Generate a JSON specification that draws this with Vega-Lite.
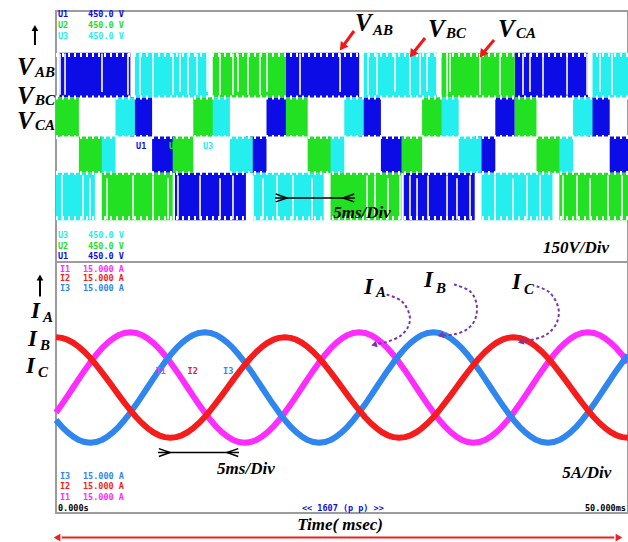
{
"$schema": "https://vega.github.io/schema/vega-lite/v6.json",
"autosize": {"type": "none"},
"width": 572,
"height": 502,
"padding": {"left": 56, "top": 11, "right": 0, "bottom": 29},
"background": "white",
"config": {
  "view": {"stroke": "#9c9c9c", "strokeWidth": 2},
  "axis": {"labels": false, "ticks": false, "domain": false, "grid": true, "gridColor": "#8c8c8c", "gridDash": [1.4, 4.3], "gridWidth": 1.3}
},
"datasets": {
  "vband": [
    {"ch":"VAB","t0":0,"t1":0.3,"lo":0,"hi":140},
    {"ch":"VAB","t0":0.3,"t1":6.5,"lo":140,"hi":300},
    {"ch":"VAB","t0":6.5,"t1":8.4,"lo":0,"hi":140},
    {"ch":"VAB","t0":8.4,"t1":10.4,"lo":-130,"hi":0},
    {"ch":"VAB","t0":10.4,"t1":16.6,"lo":-300,"hi":-130},
    {"ch":"VAB","t0":16.6,"t1":18.4,"lo":-130,"hi":0},
    {"ch":"VAB","t0":18.4,"t1":20.1,"lo":0,"hi":140},
    {"ch":"VAB","t0":20.1,"t1":26.5,"lo":140,"hi":300},
    {"ch":"VAB","t0":26.5,"t1":28.4,"lo":0,"hi":140},
    {"ch":"VAB","t0":28.4,"t1":30.4,"lo":-130,"hi":0},
    {"ch":"VAB","t0":30.4,"t1":36.6,"lo":-300,"hi":-130},
    {"ch":"VAB","t0":36.6,"t1":38.4,"lo":-130,"hi":0},
    {"ch":"VAB","t0":38.4,"t1":40.1,"lo":0,"hi":140},
    {"ch":"VAB","t0":40.1,"t1":46.5,"lo":140,"hi":300},
    {"ch":"VAB","t0":46.5,"t1":48.4,"lo":0,"hi":140},
    {"ch":"VAB","t0":48.4,"t1":50,"lo":-130,"hi":0},
    {"ch":"VBC","t0":0,"t1":3.4,"lo":-300,"hi":-130},
    {"ch":"VBC","t0":3.4,"t1":5.2,"lo":-130,"hi":0},
    {"ch":"VBC","t0":5.2,"t1":6.9,"lo":0,"hi":140},
    {"ch":"VBC","t0":6.9,"t1":13.3,"lo":140,"hi":300},
    {"ch":"VBC","t0":13.3,"t1":15.2,"lo":0,"hi":140},
    {"ch":"VBC","t0":15.2,"t1":17.2,"lo":-130,"hi":0},
    {"ch":"VBC","t0":17.2,"t1":23.4,"lo":-300,"hi":-130},
    {"ch":"VBC","t0":23.4,"t1":25.2,"lo":-130,"hi":0},
    {"ch":"VBC","t0":25.2,"t1":26.9,"lo":0,"hi":140},
    {"ch":"VBC","t0":26.9,"t1":33.3,"lo":140,"hi":300},
    {"ch":"VBC","t0":33.3,"t1":35.2,"lo":0,"hi":140},
    {"ch":"VBC","t0":35.2,"t1":37.2,"lo":-130,"hi":0},
    {"ch":"VBC","t0":37.2,"t1":43.4,"lo":-300,"hi":-130},
    {"ch":"VBC","t0":43.4,"t1":45.2,"lo":-130,"hi":0},
    {"ch":"VBC","t0":45.2,"t1":46.9,"lo":0,"hi":140},
    {"ch":"VBC","t0":46.9,"t1":50,"lo":140,"hi":300},
    {"ch":"VCA","t0":0,"t1":2.0,"lo":0,"hi":140},
    {"ch":"VCA","t0":2.0,"t1":4.0,"lo":-130,"hi":0},
    {"ch":"VCA","t0":4.0,"t1":10.2,"lo":-300,"hi":-130},
    {"ch":"VCA","t0":10.2,"t1":12.0,"lo":-130,"hi":0},
    {"ch":"VCA","t0":12.0,"t1":13.7,"lo":0,"hi":140},
    {"ch":"VCA","t0":13.7,"t1":20.1,"lo":140,"hi":300},
    {"ch":"VCA","t0":20.1,"t1":22.0,"lo":0,"hi":140},
    {"ch":"VCA","t0":22.0,"t1":24.0,"lo":-130,"hi":0},
    {"ch":"VCA","t0":24.0,"t1":30.2,"lo":-300,"hi":-130},
    {"ch":"VCA","t0":30.2,"t1":32.0,"lo":-130,"hi":0},
    {"ch":"VCA","t0":32.0,"t1":33.7,"lo":0,"hi":140},
    {"ch":"VCA","t0":33.7,"t1":40.1,"lo":140,"hi":300},
    {"ch":"VCA","t0":40.1,"t1":42.0,"lo":0,"hi":140},
    {"ch":"VCA","t0":42.0,"t1":44.0,"lo":-130,"hi":0},
    {"ch":"VCA","t0":44.0,"t1":50,"lo":-300,"hi":-130}
  ],
  "vgap": [
    {"t":0.35,"lo":150,"hi":298},{"t":0.79,"lo":150,"hi":298},{"t":4.02,"lo":160,"hi":298},{"t":6.29,"lo":150,"hi":298},
    {"t":7.34,"lo":150,"hi":298},{"t":8.48,"lo":150,"hi":298},{"t":10.23,"lo":150,"hi":298},{"t":10.84,"lo":160,"hi":298},
    {"t":11.54,"lo":150,"hi":298},{"t":12.33,"lo":150,"hi":298},{"t":13.2,"lo":160,"hi":298},
    {"t":14.34,"lo":150,"hi":298},{"t":15.47,"lo":150,"hi":298},{"t":15.91,"lo":160,"hi":298},{"t":16.78,"lo":150,"hi":298},
    {"t":17.83,"lo":150,"hi":298},{"t":18.44,"lo":160,"hi":298},{"t":21.33,"lo":150,"hi":298},{"t":24.83,"lo":160,"hi":298},
    {"t":27.27,"lo":150,"hi":298},{"t":28.06,"lo":150,"hi":298},{"t":29.63,"lo":160,"hi":298},{"t":30.94,"lo":150,"hi":298},
    {"t":31.82,"lo":150,"hi":298},{"t":32.43,"lo":160,"hi":298},{"t":33.3,"lo":150,"hi":298},
    {"t":34.18,"lo":150,"hi":298},{"t":34.44,"lo":160,"hi":298},{"t":37.06,"lo":150,"hi":298},{"t":38.81,"lo":150,"hi":298},
    {"t":40.82,"lo":150,"hi":298},{"t":41.43,"lo":160,"hi":298},{"t":42.57,"lo":150,"hi":298},{"t":44.67,"lo":150,"hi":298},
    {"t":46.42,"lo":150,"hi":298},{"t":47.55,"lo":160,"hi":298},{"t":48.6,"lo":150,"hi":298},
    {"t":0.52,"lo":-298,"hi":-140},{"t":2.36,"lo":-298,"hi":-140},{"t":2.97,"lo":-298,"hi":-150},{"t":3.58,"lo":-298,"hi":-140},
    {"t":3.85,"lo":-298,"hi":-140},{"t":4.46,"lo":-298,"hi":-150},{"t":6.73,"lo":-298,"hi":-140},{"t":8.48,"lo":-298,"hi":-140},
    {"t":9.79,"lo":-298,"hi":-150},{"t":10.66,"lo":-298,"hi":-140},{"t":12.59,"lo":-298,"hi":-140},{"t":14.34,"lo":-298,"hi":-150},
    {"t":15.47,"lo":-298,"hi":-140},{"t":17.22,"lo":-298,"hi":-140},{"t":18.09,"lo":-298,"hi":-150},{"t":19.32,"lo":-298,"hi":-140},
    {"t":20.72,"lo":-298,"hi":-140},{"t":22.38,"lo":-298,"hi":-150},{"t":27.19,"lo":-298,"hi":-140},{"t":27.88,"lo":-298,"hi":-140},
    {"t":29.02,"lo":-298,"hi":-150},{"t":30.07,"lo":-298,"hi":-140},{"t":30.94,"lo":-298,"hi":-140},{"t":31.56,"lo":-298,"hi":-150},
    {"t":32.52,"lo":-298,"hi":-140},{"t":34.18,"lo":-298,"hi":-140},{"t":35.05,"lo":-298,"hi":-150},{"t":36.19,"lo":-298,"hi":-140},
    {"t":38.37,"lo":-298,"hi":-140},{"t":39.95,"lo":-298,"hi":-150},{"t":41.17,"lo":-298,"hi":-140},{"t":42.31,"lo":-298,"hi":-140},
    {"t":43.62,"lo":-298,"hi":-150},{"t":44.32,"lo":-298,"hi":-140},{"t":45.54,"lo":-298,"hi":-140},{"t":46.68,"lo":-298,"hi":-150},
    {"t":48.25,"lo":-298,"hi":-140},{"t":49.48,"lo":-298,"hi":-140}
  ],
  "vteeth": [
    {"t0":0,"t1":50,"v":292},
    {"t0":0,"t1":50,"v":140},
    {"t0":0,"t1":50,"v":-2},
    {"t0":0,"t1":50,"v":-131},
    {"t0":0,"t1":50,"v":-292}
  ],
  "vdiv": [{"t0":0,"t1":50,"v":-450}],
  "vscope": [
    {"t":0.17,"v":437.5,"txt":"U1","ch":"VAB"},
    {"t":2.8,"v":437.5,"txt":"450.0 V","ch":"VAB"},
    {"t":0.17,"v":399.8,"txt":"U2","ch":"VCA"},
    {"t":2.8,"v":399.8,"txt":"450.0 V","ch":"VCA"},
    {"t":0.17,"v":362.1,"txt":"U3","ch":"VBC"},
    {"t":2.8,"v":362.1,"txt":"450.0 V","ch":"VBC"},
    {"t":0.17,"v":-353.2,"txt":"U3","ch":"VBC"},
    {"t":2.8,"v":-353.2,"txt":"450.0 V","ch":"VBC"},
    {"t":0.17,"v":-392.6,"txt":"U2","ch":"VCA"},
    {"t":2.8,"v":-392.6,"txt":"450.0 V","ch":"VCA"},
    {"t":0.17,"v":-428.5,"txt":"U1","ch":"VAB"},
    {"t":2.8,"v":-428.5,"txt":"450.0 V","ch":"VAB"},
    {"t":7.0,"v":-34.1,"txt":"U1","ch":"VAB"},
    {"t":9.88,"v":-34.1,"txt":"U2","ch":"VCA"},
    {"t":12.85,"v":-34.1,"txt":"U3","ch":"VBC"}
  ],
  "vbig": [
    {"t":-3.41,"v":249.2,"txt":"V","k":"m"},
    {"t":-1.84,"v":231.3,"txt":"AB","k":"s"},
    {"t":-3.41,"v":147,"txt":"V","k":"m"},
    {"t":-1.84,"v":130.9,"txt":"BC","k":"s"},
    {"t":-3.41,"v":55.6,"txt":"V","k":"m"},
    {"t":-1.84,"v":41.2,"txt":"CA","k":"s"},
    {"t":26.14,"v":407,"txt":"V","k":"m"},
    {"t":27.71,"v":381.9,"txt":"AB","k":"s"},
    {"t":32.52,"v":385.5,"txt":"V","k":"m"},
    {"t":34.09,"v":371.1,"txt":"BC","k":"s"},
    {"t":38.64,"v":385.5,"txt":"V","k":"m"},
    {"t":40.21,"v":371.1,"txt":"CA","k":"s"}
  ],
  "vnote": [
    {"t":26.75,"v":-274.3,"txt":"5ms/Div"},
    {"t":45.45,"v":-399.8,"txt":"150V/Div"}
  ],
  "varrow": [
    {"t0":26.05,"v0":378.3,"t1":25.09,"v1":324.5},
    {"t0":32.26,"v0":353.2,"t1":31.21,"v1":299.4},
    {"t0":38.29,"v0":346.0,"t1":37.33,"v1":299.4}
  ],
  "vline": [{"t0":19.14,"t1":26.14,"v":-220.5}],
  "vchev": [
    {"t":20.19,"v":-220.5,"d":"R"},
    {"t":25.09,"v":-220.5,"d":"L"}
  ],
  "vup": [{"t":-1.84,"v0":328.1,"v1":389}],
  "cur": [
    {"t":0,"IA":-3.0,"IB":-3.88,"IC":6},
    {"t":0.5,"IA":-2.04,"IB":-4.67,"IC":5.93},
    {"t":1,"IA":-1.03,"IB":-5.34,"IC":5.71},
    {"t":1.5,"IA":0,"IB":-5.88,"IC":5.35},
    {"t":2,"IA":1.03,"IB":-6.28,"IC":4.85},
    {"t":2.5,"IA":2.04,"IB":-6.52,"IC":4.24},
    {"t":3,"IA":3.0,"IB":-6.6,"IC":3.53},
    {"t":3.5,"IA":3.88,"IB":-6.52,"IC":2.72},
    {"t":4,"IA":4.67,"IB":-6.28,"IC":1.85},
    {"t":4.5,"IA":5.34,"IB":-5.88,"IC":0.94},
    {"t":5,"IA":5.88,"IB":-5.34,"IC":0},
    {"t":5.5,"IA":6.28,"IB":-4.67,"IC":-0.94},
    {"t":6,"IA":6.52,"IB":-3.88,"IC":-1.85},
    {"t":6.5,"IA":6.6,"IB":-3.0,"IC":-2.72},
    {"t":7,"IA":6.52,"IB":-2.04,"IC":-3.53},
    {"t":7.5,"IA":6.28,"IB":-1.03,"IC":-4.24},
    {"t":8,"IA":5.88,"IB":0,"IC":-4.85},
    {"t":8.5,"IA":5.34,"IB":1.03,"IC":-5.35},
    {"t":9,"IA":4.67,"IB":2.04,"IC":-5.71},
    {"t":9.5,"IA":3.88,"IB":3.0,"IC":-5.93},
    {"t":10,"IA":3.0,"IB":3.88,"IC":-6},
    {"t":10.5,"IA":2.04,"IB":4.67,"IC":-5.93},
    {"t":11,"IA":1.03,"IB":5.34,"IC":-5.71},
    {"t":11.5,"IA":0,"IB":5.88,"IC":-5.35},
    {"t":12,"IA":-1.03,"IB":6.28,"IC":-4.85},
    {"t":12.5,"IA":-2.04,"IB":6.52,"IC":-4.24},
    {"t":13,"IA":-3.0,"IB":6.6,"IC":-3.53},
    {"t":13.5,"IA":-3.88,"IB":6.52,"IC":-2.72},
    {"t":14,"IA":-4.67,"IB":6.28,"IC":-1.85},
    {"t":14.5,"IA":-5.34,"IB":5.88,"IC":-0.94},
    {"t":15,"IA":-5.88,"IB":5.34,"IC":0},
    {"t":15.5,"IA":-6.28,"IB":4.67,"IC":0.94},
    {"t":16,"IA":-6.52,"IB":3.88,"IC":1.85},
    {"t":16.5,"IA":-6.6,"IB":3.0,"IC":2.72},
    {"t":17,"IA":-6.52,"IB":2.04,"IC":3.53},
    {"t":17.5,"IA":-6.28,"IB":1.03,"IC":4.24},
    {"t":18,"IA":-5.88,"IB":0,"IC":4.85},
    {"t":18.5,"IA":-5.34,"IB":-1.03,"IC":5.35},
    {"t":19,"IA":-4.67,"IB":-2.04,"IC":5.71},
    {"t":19.5,"IA":-3.88,"IB":-3.0,"IC":5.93},
    {"t":20,"IA":-3.0,"IB":-3.88,"IC":6},
    {"t":20.5,"IA":-2.04,"IB":-4.67,"IC":5.93},
    {"t":21,"IA":-1.03,"IB":-5.34,"IC":5.71},
    {"t":21.5,"IA":0,"IB":-5.88,"IC":5.35},
    {"t":22,"IA":1.03,"IB":-6.28,"IC":4.85},
    {"t":22.5,"IA":2.04,"IB":-6.52,"IC":4.24},
    {"t":23,"IA":3.0,"IB":-6.6,"IC":3.53},
    {"t":23.5,"IA":3.88,"IB":-6.52,"IC":2.72},
    {"t":24,"IA":4.67,"IB":-6.28,"IC":1.85},
    {"t":24.5,"IA":5.34,"IB":-5.88,"IC":0.94},
    {"t":25,"IA":5.88,"IB":-5.34,"IC":0},
    {"t":25.5,"IA":6.28,"IB":-4.67,"IC":-0.94},
    {"t":26,"IA":6.52,"IB":-3.88,"IC":-1.85},
    {"t":26.5,"IA":6.6,"IB":-3.0,"IC":-2.72},
    {"t":27,"IA":6.52,"IB":-2.04,"IC":-3.53},
    {"t":27.5,"IA":6.28,"IB":-1.03,"IC":-4.24},
    {"t":28,"IA":5.88,"IB":0,"IC":-4.85},
    {"t":28.5,"IA":5.34,"IB":1.03,"IC":-5.35},
    {"t":29,"IA":4.67,"IB":2.04,"IC":-5.71},
    {"t":29.5,"IA":3.88,"IB":3.0,"IC":-5.93},
    {"t":30,"IA":3.0,"IB":3.88,"IC":-6},
    {"t":30.5,"IA":2.04,"IB":4.67,"IC":-5.93},
    {"t":31,"IA":1.03,"IB":5.34,"IC":-5.71},
    {"t":31.5,"IA":0,"IB":5.88,"IC":-5.35},
    {"t":32,"IA":-1.03,"IB":6.28,"IC":-4.85},
    {"t":32.5,"IA":-2.04,"IB":6.52,"IC":-4.24},
    {"t":33,"IA":-3.0,"IB":6.6,"IC":-3.53},
    {"t":33.5,"IA":-3.88,"IB":6.52,"IC":-2.72},
    {"t":34,"IA":-4.67,"IB":6.28,"IC":-1.85},
    {"t":34.5,"IA":-5.34,"IB":5.88,"IC":-0.94},
    {"t":35,"IA":-5.88,"IB":5.34,"IC":0},
    {"t":35.5,"IA":-6.28,"IB":4.67,"IC":0.94},
    {"t":36,"IA":-6.52,"IB":3.88,"IC":1.85},
    {"t":36.5,"IA":-6.6,"IB":3.0,"IC":2.72},
    {"t":37,"IA":-6.52,"IB":2.04,"IC":3.53},
    {"t":37.5,"IA":-6.28,"IB":1.03,"IC":4.24},
    {"t":38,"IA":-5.88,"IB":0,"IC":4.85},
    {"t":38.5,"IA":-5.34,"IB":-1.03,"IC":5.35},
    {"t":39,"IA":-4.67,"IB":-2.04,"IC":5.71},
    {"t":39.5,"IA":-3.88,"IB":-3.0,"IC":5.93},
    {"t":40,"IA":-3.0,"IB":-3.88,"IC":6},
    {"t":40.5,"IA":-2.04,"IB":-4.67,"IC":5.93},
    {"t":41,"IA":-1.03,"IB":-5.34,"IC":5.71},
    {"t":41.5,"IA":0,"IB":-5.88,"IC":5.35},
    {"t":42,"IA":1.03,"IB":-6.28,"IC":4.85},
    {"t":42.5,"IA":2.04,"IB":-6.52,"IC":4.24},
    {"t":43,"IA":3.0,"IB":-6.6,"IC":3.53},
    {"t":43.5,"IA":3.88,"IB":-6.52,"IC":2.72},
    {"t":44,"IA":4.67,"IB":-6.28,"IC":1.85},
    {"t":44.5,"IA":5.34,"IB":-5.88,"IC":0.94},
    {"t":45,"IA":5.88,"IB":-5.34,"IC":0},
    {"t":45.5,"IA":6.28,"IB":-4.67,"IC":-0.94},
    {"t":46,"IA":6.52,"IB":-3.88,"IC":-1.85},
    {"t":46.5,"IA":6.6,"IB":-3.0,"IC":-2.72},
    {"t":47,"IA":6.52,"IB":-2.04,"IC":-3.53},
    {"t":47.5,"IA":6.28,"IB":-1.03,"IC":-4.24},
    {"t":48,"IA":5.88,"IB":0,"IC":-4.85},
    {"t":48.5,"IA":5.34,"IB":1.03,"IC":-5.35},
    {"t":49,"IA":4.67,"IB":2.04,"IC":-5.71},
    {"t":49.5,"IA":3.88,"IB":3.0,"IC":-5.93},
    {"t":50,"IA":3.0,"IB":3.88,"IC":-6}
  ],
  "cscope": [
    {"t":0.35,"i":14.16,"txt":"I1","ch":"IA"},
    {"t":2.36,"i":14.16,"txt":"15.000 A","ch":"IA"},
    {"t":0.35,"i":13.09,"txt":"I2","ch":"IC"},
    {"t":2.36,"i":13.09,"txt":"15.000 A","ch":"IC"},
    {"t":0.35,"i":11.89,"txt":"I3","ch":"IB"},
    {"t":2.36,"i":11.89,"txt":"15.000 A","ch":"IB"},
    {"t":0.35,"i":-10.58,"txt":"I3","ch":"IB"},
    {"t":2.36,"i":-10.58,"txt":"15.000 A","ch":"IB"},
    {"t":0.35,"i":-11.77,"txt":"I2","ch":"IC"},
    {"t":2.36,"i":-11.77,"txt":"15.000 A","ch":"IC"},
    {"t":0.35,"i":-13.03,"txt":"I1","ch":"IA"},
    {"t":2.36,"i":-13.03,"txt":"15.000 A","ch":"IA"},
    {"t":8.7,"i":2.03,"txt":"I1","ch":"IA"},
    {"t":11.5,"i":2.03,"txt":"I2","ch":"IC"},
    {"t":14.6,"i":2.03,"txt":"I3","ch":"IB"},
    {"t":21.5,"i":-14.46,"txt":"<< 1607 (p p) >>","ch":"VAB"}
  ],
  "cblack": [
    {"t":0.17,"i":-14.46,"txt":"0.000s"},
    {"t":46.24,"i":-14.46,"txt":"50.000ms"}
  ],
  "cbig": [
    {"t":-2.19,"i":9.2,"txt":"I","k":"m"},
    {"t":-1.14,"i":8.37,"txt":"A","k":"s"},
    {"t":-2.45,"i":5.74,"txt":"I","k":"m"},
    {"t":-1.4,"i":5.02,"txt":"B","k":"s"},
    {"t":-2.62,"i":2.51,"txt":"I","k":"m"},
    {"t":-1.57,"i":1.91,"txt":"C","k":"s"},
    {"t":26.92,"i":12.07,"txt":"I","k":"m"},
    {"t":27.97,"i":11.47,"txt":"A","k":"s"},
    {"t":32.17,"i":12.79,"txt":"I","k":"m"},
    {"t":33.22,"i":11.95,"txt":"B","k":"s"},
    {"t":39.86,"i":12.55,"txt":"I","k":"m"},
    {"t":40.91,"i":11.83,"txt":"C","k":"s"}
  ],
  "cnote": [
    {"t":16.6,"i":-9.8,"txt":"5ms/Div"},
    {"t":46.4,"i":-10.16,"txt":"5A/Div"},
    {"t":24.83,"i":-16.49,"txt":"Time( msec)"}
  ],
  "cline": [{"t0":8.92,"t1":16.0,"i":-7.77}],
  "cchev": [
    {"t":9.97,"i":-7.77,"d":"R"},
    {"t":14.95,"i":-7.77,"d":"L"}
  ],
  "cup": [{"t":-1.4,"i0":10.88,"i1":13.15}],
  "cred": [{"t0":0.5,"t1":48.8,"i":-17.93}],
  "credhead": [
    {"t":0.09,"i":-17.93,"d":"L"},
    {"t":49.21,"i":-17.93,"d":"R"}
  ],
  "cpurple": [
    {"g":"A","o":1,"t":28.91,"i":11.12},
    {"g":"A","o":2,"t":30.22,"i":10.31},
    {"g":"A","o":3,"t":30.89,"i":8.72},
    {"g":"A","o":4,"t":30.8,"i":7.33},
    {"g":"A","o":5,"t":30.07,"i":6.13},
    {"g":"A","o":6,"t":28.91,"i":5.46},
    {"g":"A","o":7,"t":27.88,"i":5.14},
    {"g":"B","o":1,"t":34.79,"i":12.31},
    {"g":"B","o":2,"t":36.19,"i":11.51},
    {"g":"B","o":3,"t":36.77,"i":9.92},
    {"g":"B","o":4,"t":36.63,"i":8.13},
    {"g":"B","o":5,"t":35.9,"i":6.93},
    {"g":"B","o":6,"t":34.73,"i":6.33},
    {"g":"B","o":7,"t":33.71,"i":6.25},
    {"g":"C","o":1,"t":42.02,"i":12.11},
    {"g":"C","o":2,"t":43.18,"i":11.32},
    {"g":"C","o":3,"t":43.91,"i":9.53},
    {"g":"C","o":4,"t":43.77,"i":7.73},
    {"g":"C","o":5,"t":42.89,"i":6.33},
    {"g":"C","o":6,"t":41.72,"i":5.74},
    {"g":"C","o":7,"t":40.71,"i":5.46}
  ],
  "cphead": [
    {"t":27.88,"i":5.14},
    {"t":33.71,"i":6.25},
    {"t":40.71,"i":5.46}
  ]
},
"resolve": {"scale": {"y": "independent"}},
"layer": [
  {
    "layer": [
      {
        "data": {"name": "vband"},
        "mark": {"type": "rect"},
        "encoding": {
          "x": {"field": "t0", "type": "quantitative", "scale": {"domain": [0, 50], "nice": false, "zero": false}, "axis": {"values": [5,10,15,20,25,30,35,40,45], "labels": false, "ticks": false, "domain": false, "title": null, "grid": true}},
          "x2": {"field": "t1"},
          "y": {"field": "lo", "type": "quantitative", "scale": {"domain": [-1350, 450], "nice": false, "zero": false}, "axis": {"values": [-300,-150,0,150,300], "labels": false, "ticks": false, "domain": false, "title": null, "grid": true}},
          "y2": {"field": "hi"},
          "color": {"field": "ch", "type": "nominal", "scale": {"domain": ["VAB","VBC","VCA","IA","IB","IC"], "range": ["#0c0ce6","#25eeee","#22e022","#ff2cff","#2e86ee","#f51c1c"]}, "legend": null}
        }
      },
      {
        "data": {"name": "vgap"},
        "mark": {"type": "rule", "color": "white", "strokeWidth": 1.6},
        "encoding": {
          "x": {"field": "t", "type": "quantitative", "scale": {"domain": [0, 50], "nice": false, "zero": false}, "axis": null},
          "y": {"field": "lo", "type": "quantitative", "scale": {"domain": [-1350, 450], "nice": false, "zero": false}, "axis": null},
          "y2": {"field": "hi"}
        }
      },
      {
        "data": {"name": "vteeth"},
        "mark": {"type": "rule", "color": "white", "strokeWidth": 4, "strokeDash": [2, 4]},
        "encoding": {
          "x": {"field": "t0", "type": "quantitative", "scale": {"domain": [0, 50], "nice": false, "zero": false}, "axis": null},
          "x2": {"field": "t1"},
          "y": {"field": "v", "type": "quantitative", "scale": {"domain": [-1350, 450], "nice": false, "zero": false}, "axis": null}
        }
      },
      {
        "data": {"name": "vdiv"},
        "mark": {"type": "rule", "color": "#9c9c9c", "strokeWidth": 2},
        "encoding": {
          "x": {"field": "t0", "type": "quantitative", "scale": {"domain": [0, 50], "nice": false, "zero": false}, "axis": null},
          "x2": {"field": "t1"},
          "y": {"field": "v", "type": "quantitative", "scale": {"domain": [-1350, 450], "nice": false, "zero": false}, "axis": null}
        }
      },
      {
        "data": {"name": "vscope"},
        "mark": {"type": "text", "align": "left", "baseline": "middle", "font": "DejaVu Sans Mono", "fontSize": 8.5, "fontWeight": "bold"},
        "encoding": {
          "x": {"field": "t", "type": "quantitative", "scale": {"domain": [0, 50], "nice": false, "zero": false}, "axis": null},
          "y": {"field": "v", "type": "quantitative", "scale": {"domain": [-1350, 450], "nice": false, "zero": false}, "axis": null},
          "text": {"field": "txt"},
          "color": {"field": "ch", "type": "nominal", "scale": {"domain": ["VAB","VBC","VCA","IA","IB","IC"], "range": ["#0c0ce6","#25eeee","#22e022","#ff2cff","#2e86ee","#f51c1c"]}, "legend": null}
        }
      },
      {
        "data": {"name": "vbig"},
        "transform": [{"filter": "datum.k == 'm'"}],
        "mark": {"type": "text", "align": "left", "baseline": "middle", "font": "Liberation Serif", "fontStyle": "italic", "fontWeight": "bold", "fontSize": 25, "color": "black"},
        "encoding": {
          "x": {"field": "t", "type": "quantitative", "scale": {"domain": [0, 50], "nice": false, "zero": false}, "axis": null},
          "y": {"field": "v", "type": "quantitative", "scale": {"domain": [-1350, 450], "nice": false, "zero": false}, "axis": null},
          "text": {"field": "txt"}
        }
      },
      {
        "data": {"name": "vbig"},
        "transform": [{"filter": "datum.k == 's'"}],
        "mark": {"type": "text", "align": "left", "baseline": "middle", "font": "Liberation Serif", "fontStyle": "italic", "fontWeight": "bold", "fontSize": 15, "color": "black"},
        "encoding": {
          "x": {"field": "t", "type": "quantitative", "scale": {"domain": [0, 50], "nice": false, "zero": false}, "axis": null},
          "y": {"field": "v", "type": "quantitative", "scale": {"domain": [-1350, 450], "nice": false, "zero": false}, "axis": null},
          "text": {"field": "txt"}
        }
      },
      {
        "data": {"name": "vnote"},
        "mark": {"type": "text", "align": "center", "baseline": "middle", "font": "Liberation Serif", "fontStyle": "italic", "fontWeight": "bold", "fontSize": 17, "color": "black"},
        "encoding": {
          "x": {"field": "t", "type": "quantitative", "scale": {"domain": [0, 50], "nice": false, "zero": false}, "axis": null},
          "y": {"field": "v", "type": "quantitative", "scale": {"domain": [-1350, 450], "nice": false, "zero": false}, "axis": null},
          "text": {"field": "txt"}
        }
      },
      {
        "data": {"name": "varrow"},
        "mark": {"type": "rule", "color": "#f01818", "strokeWidth": 3},
        "encoding": {
          "x": {"field": "t0", "type": "quantitative", "scale": {"domain": [0, 50], "nice": false, "zero": false}, "axis": null},
          "x2": {"field": "t1"},
          "y": {"field": "v0", "type": "quantitative", "scale": {"domain": [-1350, 450], "nice": false, "zero": false}, "axis": null},
          "y2": {"field": "v1"}
        }
      },
      {
        "data": {"name": "varrow"},
        "mark": {"type": "point", "shape": "triangle", "angle": 216, "filled": true, "color": "#f01818", "opacity": 1, "size": 90},
        "encoding": {
          "x": {"field": "t1", "type": "quantitative", "scale": {"domain": [0, 50], "nice": false, "zero": false}, "axis": null},
          "y": {"field": "v1", "type": "quantitative", "scale": {"domain": [-1350, 450], "nice": false, "zero": false}, "axis": null}
        }
      },
      {
        "data": {"name": "vline"},
        "mark": {"type": "rule", "color": "black", "strokeWidth": 1.5},
        "encoding": {
          "x": {"field": "t0", "type": "quantitative", "scale": {"domain": [0, 50], "nice": false, "zero": false}, "axis": null},
          "x2": {"field": "t1"},
          "y": {"field": "v", "type": "quantitative", "scale": {"domain": [-1350, 450], "nice": false, "zero": false}, "axis": null}
        }
      },
      {
        "data": {"name": "vchev"},
        "transform": [{"filter": "datum.d == 'R'"}],
        "mark": {"type": "point", "shape": "M-1,-0.35L0,0L-1,0.35", "filled": false, "color": "black", "strokeWidth": 1.5, "opacity": 1, "size": 500},
        "encoding": {
          "x": {"field": "t", "type": "quantitative", "scale": {"domain": [0, 50], "nice": false, "zero": false}, "axis": null},
          "y": {"field": "v", "type": "quantitative", "scale": {"domain": [-1350, 450], "nice": false, "zero": false}, "axis": null}
        }
      },
      {
        "data": {"name": "vchev"},
        "transform": [{"filter": "datum.d == 'L'"}],
        "mark": {"type": "point", "shape": "M1,-0.35L0,0L1,0.35", "filled": false, "color": "black", "strokeWidth": 1.5, "opacity": 1, "size": 500},
        "encoding": {
          "x": {"field": "t", "type": "quantitative", "scale": {"domain": [0, 50], "nice": false, "zero": false}, "axis": null},
          "y": {"field": "v", "type": "quantitative", "scale": {"domain": [-1350, 450], "nice": false, "zero": false}, "axis": null}
        }
      },
      {
        "data": {"name": "vup"},
        "mark": {"type": "rule", "color": "black", "strokeWidth": 2},
        "encoding": {
          "x": {"field": "t", "type": "quantitative", "scale": {"domain": [0, 50], "nice": false, "zero": false}, "axis": null},
          "y": {"field": "v0", "type": "quantitative", "scale": {"domain": [-1350, 450], "nice": false, "zero": false}, "axis": null},
          "y2": {"field": "v1"}
        }
      },
      {
        "data": {"name": "vup"},
        "mark": {"type": "point", "shape": "triangle-up", "filled": true, "color": "black", "opacity": 1, "size": 45},
        "encoding": {
          "x": {"field": "t", "type": "quantitative", "scale": {"domain": [0, 50], "nice": false, "zero": false}, "axis": null},
          "y": {"field": "v1", "type": "quantitative", "scale": {"domain": [-1350, 450], "nice": false, "zero": false}, "axis": null}
        }
      }
    ]
  },
  {
    "layer": [
      {
        "data": {"name": "cur"},
        "transform": [{"fold": ["IA", "IB", "IC"], "as": ["ch", "i"]}],
        "mark": {"type": "line", "strokeWidth": 6, "strokeJoin": "round"},
        "encoding": {
          "x": {"field": "t", "type": "quantitative", "scale": {"domain": [0, 50], "nice": false, "zero": false}, "axis": null},
          "y": {"field": "i", "type": "quantitative", "scale": {"domain": [-15, 45], "nice": false, "zero": false}, "axis": {"values": [-10,-5,0,5,10], "labels": false, "ticks": false, "domain": false, "title": null, "grid": true}},
          "color": {"field": "ch", "type": "nominal", "scale": {"domain": ["VAB","VBC","VCA","IA","IB","IC"], "range": ["#0c0ce6","#25eeee","#22e022","#ff2cff","#2e86ee","#f51c1c"]}, "legend": null}
        }
      },
      {
        "data": {"name": "cscope"},
        "mark": {"type": "text", "align": "left", "baseline": "middle", "font": "DejaVu Sans Mono", "fontSize": 8.5, "fontWeight": "bold"},
        "encoding": {
          "x": {"field": "t", "type": "quantitative", "scale": {"domain": [0, 50], "nice": false, "zero": false}, "axis": null},
          "y": {"field": "i", "type": "quantitative", "scale": {"domain": [-15, 45], "nice": false, "zero": false}, "axis": null},
          "text": {"field": "txt"},
          "color": {"field": "ch", "type": "nominal", "scale": {"domain": ["VAB","VBC","VCA","IA","IB","IC"], "range": ["#0c0ce6","#25eeee","#22e022","#ff2cff","#2e86ee","#f51c1c"]}, "legend": null}
        }
      },
      {
        "data": {"name": "cblack"},
        "mark": {"type": "text", "align": "left", "baseline": "middle", "font": "DejaVu Sans Mono", "fontSize": 8.5, "fontWeight": "bold", "color": "black"},
        "encoding": {
          "x": {"field": "t", "type": "quantitative", "scale": {"domain": [0, 50], "nice": false, "zero": false}, "axis": null},
          "y": {"field": "i", "type": "quantitative", "scale": {"domain": [-15, 45], "nice": false, "zero": false}, "axis": null},
          "text": {"field": "txt"}
        }
      },
      {
        "data": {"name": "cpurple"},
        "mark": {"type": "line", "interpolate": "cardinal", "color": "#7a35a8", "strokeWidth": 2, "strokeDash": [3, 2.5]},
        "encoding": {
          "x": {"field": "t", "type": "quantitative", "scale": {"domain": [0, 50], "nice": false, "zero": false}, "axis": null},
          "y": {"field": "i", "type": "quantitative", "scale": {"domain": [-15, 45], "nice": false, "zero": false}, "axis": null},
          "detail": {"field": "g"},
          "order": {"field": "o"}
        }
      },
      {
        "data": {"name": "cphead"},
        "mark": {"type": "point", "shape": "triangle", "angle": 255, "filled": true, "color": "#7a35a8", "opacity": 1, "size": 45},
        "encoding": {
          "x": {"field": "t", "type": "quantitative", "scale": {"domain": [0, 50], "nice": false, "zero": false}, "axis": null},
          "y": {"field": "i", "type": "quantitative", "scale": {"domain": [-15, 45], "nice": false, "zero": false}, "axis": null}
        }
      },
      {
        "data": {"name": "cbig"},
        "transform": [{"filter": "datum.k == 'm'"}],
        "mark": {"type": "text", "align": "left", "baseline": "middle", "font": "Liberation Serif", "fontStyle": "italic", "fontWeight": "bold", "fontSize": 23, "color": "black"},
        "encoding": {
          "x": {"field": "t", "type": "quantitative", "scale": {"domain": [0, 50], "nice": false, "zero": false}, "axis": null},
          "y": {"field": "i", "type": "quantitative", "scale": {"domain": [-15, 45], "nice": false, "zero": false}, "axis": null},
          "text": {"field": "txt"}
        }
      },
      {
        "data": {"name": "cbig"},
        "transform": [{"filter": "datum.k == 's'"}],
        "mark": {"type": "text", "align": "left", "baseline": "middle", "font": "Liberation Serif", "fontStyle": "italic", "fontWeight": "bold", "fontSize": 15, "color": "black"},
        "encoding": {
          "x": {"field": "t", "type": "quantitative", "scale": {"domain": [0, 50], "nice": false, "zero": false}, "axis": null},
          "y": {"field": "i", "type": "quantitative", "scale": {"domain": [-15, 45], "nice": false, "zero": false}, "axis": null},
          "text": {"field": "txt"}
        }
      },
      {
        "data": {"name": "cnote"},
        "mark": {"type": "text", "align": "center", "baseline": "middle", "font": "Liberation Serif", "fontStyle": "italic", "fontWeight": "bold", "fontSize": 17, "color": "black"},
        "encoding": {
          "x": {"field": "t", "type": "quantitative", "scale": {"domain": [0, 50], "nice": false, "zero": false}, "axis": null},
          "y": {"field": "i", "type": "quantitative", "scale": {"domain": [-15, 45], "nice": false, "zero": false}, "axis": null},
          "text": {"field": "txt"}
        }
      },
      {
        "data": {"name": "cline"},
        "mark": {"type": "rule", "color": "black", "strokeWidth": 1.5},
        "encoding": {
          "x": {"field": "t0", "type": "quantitative", "scale": {"domain": [0, 50], "nice": false, "zero": false}, "axis": null},
          "x2": {"field": "t1"},
          "y": {"field": "i", "type": "quantitative", "scale": {"domain": [-15, 45], "nice": false, "zero": false}, "axis": null}
        }
      },
      {
        "data": {"name": "cchev"},
        "transform": [{"filter": "datum.d == 'R'"}],
        "mark": {"type": "point", "shape": "M-1,-0.35L0,0L-1,0.35", "filled": false, "color": "black", "strokeWidth": 1.5, "opacity": 1, "size": 500},
        "encoding": {
          "x": {"field": "t", "type": "quantitative", "scale": {"domain": [0, 50], "nice": false, "zero": false}, "axis": null},
          "y": {"field": "i", "type": "quantitative", "scale": {"domain": [-15, 45], "nice": false, "zero": false}, "axis": null}
        }
      },
      {
        "data": {"name": "cchev"},
        "transform": [{"filter": "datum.d == 'L'"}],
        "mark": {"type": "point", "shape": "M1,-0.35L0,0L1,0.35", "filled": false, "color": "black", "strokeWidth": 1.5, "opacity": 1, "size": 500},
        "encoding": {
          "x": {"field": "t", "type": "quantitative", "scale": {"domain": [0, 50], "nice": false, "zero": false}, "axis": null},
          "y": {"field": "i", "type": "quantitative", "scale": {"domain": [-15, 45], "nice": false, "zero": false}, "axis": null}
        }
      },
      {
        "data": {"name": "cup"},
        "mark": {"type": "rule", "color": "black", "strokeWidth": 2},
        "encoding": {
          "x": {"field": "t", "type": "quantitative", "scale": {"domain": [0, 50], "nice": false, "zero": false}, "axis": null},
          "y": {"field": "i0", "type": "quantitative", "scale": {"domain": [-15, 45], "nice": false, "zero": false}, "axis": null},
          "y2": {"field": "i1"}
        }
      },
      {
        "data": {"name": "cup"},
        "mark": {"type": "point", "shape": "triangle-up", "filled": true, "color": "black", "opacity": 1, "size": 45},
        "encoding": {
          "x": {"field": "t", "type": "quantitative", "scale": {"domain": [0, 50], "nice": false, "zero": false}, "axis": null},
          "y": {"field": "i1", "type": "quantitative", "scale": {"domain": [-15, 45], "nice": false, "zero": false}, "axis": null}
        }
      },
      {
        "data": {"name": "cred"},
        "mark": {"type": "rule", "color": "#f02020", "strokeWidth": 2},
        "encoding": {
          "x": {"field": "t0", "type": "quantitative", "scale": {"domain": [0, 50], "nice": false, "zero": false}, "axis": null},
          "x2": {"field": "t1"},
          "y": {"field": "i", "type": "quantitative", "scale": {"domain": [-15, 45], "nice": false, "zero": false}, "axis": null}
        }
      },
      {
        "data": {"name": "credhead"},
        "transform": [{"filter": "datum.d == 'L'"}],
        "mark": {"type": "point", "shape": "triangle-left", "filled": true, "color": "#f02020", "opacity": 1, "size": 60},
        "encoding": {
          "x": {"field": "t", "type": "quantitative", "scale": {"domain": [0, 50], "nice": false, "zero": false}, "axis": null},
          "y": {"field": "i", "type": "quantitative", "scale": {"domain": [-15, 45], "nice": false, "zero": false}, "axis": null}
        }
      },
      {
        "data": {"name": "credhead"},
        "transform": [{"filter": "datum.d == 'R'"}],
        "mark": {"type": "point", "shape": "triangle-right", "filled": true, "color": "#f02020", "opacity": 1, "size": 60},
        "encoding": {
          "x": {"field": "t", "type": "quantitative", "scale": {"domain": [0, 50], "nice": false, "zero": false}, "axis": null},
          "y": {"field": "i", "type": "quantitative", "scale": {"domain": [-15, 45], "nice": false, "zero": false}, "axis": null}
        }
      }
    ]
  }
]
}
